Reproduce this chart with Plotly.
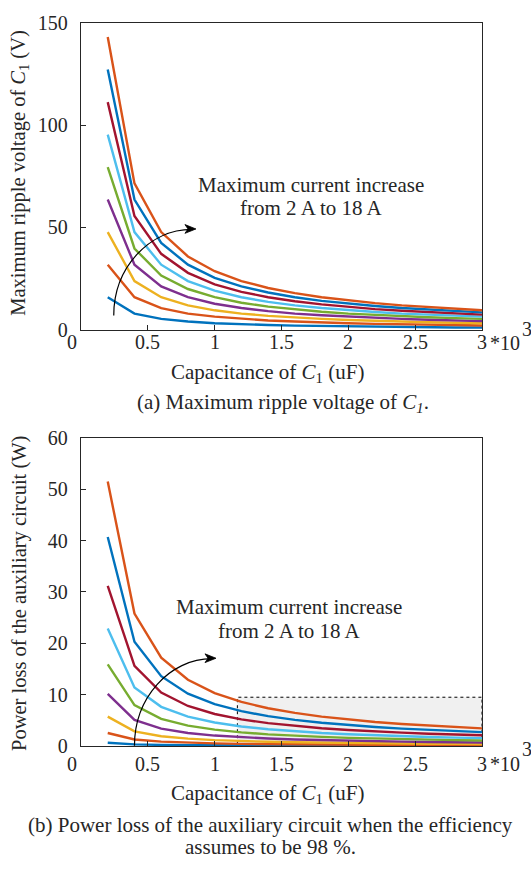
import plotly.graph_objects as go

# ---------------- data ----------------
capacitance = [0.2, 0.4, 0.6, 0.8, 1.0, 1.2, 1.4, 1.6, 1.8, 2.0, 2.2, 2.4, 2.6, 2.8, 3.0]
currents = ["2 A", "4 A", "6 A", "8 A", "10 A", "12 A", "14 A", "16 A", "18 A"]

ripple_2A = [15.9, 7.9, 5.3, 4.0, 3.2, 2.6, 2.3, 2.0, 1.8, 1.6, 1.4, 1.3, 1.2, 1.1, 1.1]
ripple_4A = [31.8, 15.9, 10.6, 7.9, 6.4, 5.3, 4.5, 4.0, 3.5, 3.2, 2.9, 2.6, 2.4, 2.3, 2.1]
ripple_6A = [47.7, 23.8, 15.9, 11.9, 9.5, 7.9, 6.8, 6.0, 5.3, 4.8, 4.3, 4.0, 3.7, 3.4, 3.2]
ripple_8A = [63.6, 31.8, 21.2, 15.9, 12.7, 10.6, 9.1, 7.9, 7.1, 6.4, 5.8, 5.3, 4.9, 4.5, 4.2]
ripple_10A = [79.4, 39.7, 26.5, 19.9, 15.9, 13.2, 11.3, 9.9, 8.8, 7.9, 7.2, 6.6, 6.1, 5.7, 5.3]
ripple_12A = [95.3, 47.7, 31.8, 23.8, 19.1, 15.9, 13.6, 11.9, 10.6, 9.5, 8.7, 7.9, 7.3, 6.8, 6.4]
ripple_14A = [111.2, 55.6, 37.1, 27.8, 22.2, 18.5, 15.9, 13.9, 12.4, 11.1, 10.1, 9.3, 8.6, 7.9, 7.4]
ripple_16A = [127.1, 63.6, 42.4, 31.8, 25.4, 21.2, 18.2, 15.9, 14.1, 12.7, 11.6, 10.6, 9.8, 9.1, 8.5]
ripple_18A = [143.0, 71.5, 47.7, 35.8, 28.6, 23.8, 20.4, 17.9, 15.9, 14.3, 13.0, 11.9, 11.0, 10.2, 9.5]

loss_2A = [0.64, 0.32, 0.21, 0.16, 0.13, 0.11, 0.09, 0.08, 0.07, 0.06, 0.06, 0.05, 0.05, 0.05, 0.04]
loss_4A = [2.54, 1.27, 0.85, 0.64, 0.51, 0.42, 0.36, 0.32, 0.28, 0.25, 0.23, 0.21, 0.20, 0.18, 0.17]
loss_6A = [5.72, 2.86, 1.91, 1.43, 1.14, 0.95, 0.82, 0.72, 0.64, 0.57, 0.52, 0.48, 0.44, 0.41, 0.38]
loss_8A = [10.17, 5.09, 3.39, 2.54, 2.03, 1.70, 1.45, 1.27, 1.13, 1.02, 0.92, 0.85, 0.78, 0.73, 0.68]
loss_10A = [15.9, 7.95, 5.30, 3.97, 3.18, 2.65, 2.27, 1.99, 1.77, 1.59, 1.45, 1.32, 1.22, 1.14, 1.06]
loss_12A = [22.9, 11.4, 7.63, 5.72, 4.58, 3.81, 3.27, 2.86, 2.54, 2.29, 2.08, 1.91, 1.76, 1.63, 1.53]
loss_14A = [31.2, 15.6, 10.4, 7.79, 6.23, 5.19, 4.45, 3.89, 3.46, 3.12, 2.83, 2.60, 2.40, 2.22, 2.08]
loss_16A = [40.7, 20.3, 13.6, 10.2, 8.14, 6.78, 5.81, 5.09, 4.52, 4.07, 3.70, 3.39, 3.13, 2.91, 2.71]
loss_18A = [51.5, 25.8, 17.2, 12.9, 10.3, 8.58, 7.36, 6.44, 5.72, 5.15, 4.68, 4.29, 3.96, 3.68, 3.43]

ripple_series = [ripple_2A, ripple_4A, ripple_6A, ripple_8A, ripple_10A,
                 ripple_12A, ripple_14A, ripple_16A, ripple_18A]
loss_series = [loss_2A, loss_4A, loss_6A, loss_8A, loss_10A,
               loss_12A, loss_14A, loss_16A, loss_18A]

x_tickvals = [0, 0.5, 1, 1.5, 2, 2.5, 3]
x_ticktext = ["0", "0.5", "1", "1.5", "2", "2.5", "3"]
y1_tickvals = [0, 50, 100, 150]
y2_tickvals = [0, 10, 20, 30, 40, 50, 60]

# highlighted region in (b)
box_x0, box_x1, box_y0, box_y1 = 1.17, 3.0, 0.0, 9.5

# ---------------- style ----------------
colors = ["#0072BD", "#D95319", "#EDB120", "#7E2F8E", "#77AC30",
          "#4DBEEE", "#A2142F", "#0072BD", "#D95319"]
FONT = "Liberation Serif"
TXT = "#262626"
W, H = 531, 873

def px_x(p):
    return p / W

def px_y(p):
    return 1 - p / H

fig = go.Figure()

for i, (name, ys) in enumerate(zip(currents, ripple_series)):
    fig.add_trace(go.Scatter(x=capacitance, y=ys, mode="lines", name=name,
                             line=dict(color=colors[i], width=2.4),
                             xaxis="x", yaxis="y", showlegend=False))
for i, (name, ys) in enumerate(zip(currents, loss_series)):
    fig.add_trace(go.Scatter(x=capacitance, y=ys, mode="lines", name=name,
                             line=dict(color=colors[i], width=2.4),
                             xaxis="x2", yaxis="y2", showlegend=False))

xdom = [px_x(81), px_x(482)]
axis_common = dict(showgrid=False, zeroline=False, showline=True, mirror=True,
                   linecolor=TXT, linewidth=1.3, ticks="inside", ticklen=5,
                   tickcolor=TXT, tickfont=dict(family=FONT, size=20, color=TXT))

fig.update_layout(
    width=W, height=H,
    margin=dict(l=0, r=0, t=0, b=0),
    paper_bgcolor="white", plot_bgcolor="white",
    font=dict(family=FONT, color=TXT),
    xaxis=dict(domain=xdom, range=[0, 3], anchor="y", tickvals=x_tickvals,
               showticklabels=False, **axis_common),
    yaxis=dict(domain=[px_y(327), px_y(12)], range=[0, 150], anchor="x",
               tickvals=y1_tickvals, ticklabelstandoff=8, **axis_common),
    xaxis2=dict(domain=xdom, range=[0, 3], anchor="y2", tickvals=x_tickvals,
                showticklabels=False, **axis_common),
    yaxis2=dict(domain=[px_y(754), px_y(438)], range=[0, 60], anchor="x2",
                tickvals=y2_tickvals, ticklabelstandoff=8, **axis_common),
)

# x tick labels placed through the x scales (closer to the axis than default)
for xr, ypx in (("x", 340), ("x2", 772)):
    for v, t in zip(x_tickvals, x_ticktext):
        fig.add_annotation(xref=xr, yref="paper", x=v, y=px_y(ypx), text=t,
                           showarrow=False, xanchor="center", yanchor="middle",
                           xshift=-9 if v == 0 else 0,
                           font=dict(family=FONT, size=20, color=TXT))

# shaded dotted box (drawn below traces)
fig.add_shape(type="rect", xref="x2", yref="y2", x0=box_x0, x1=box_x1,
              y0=box_y0, y1=box_y1, fillcolor="#f0f0f0",
              line=dict(color="black", width=1, dash="dot"), layer="below")

# curved arrows; sx, sy = data units per pixel
def arc(xr, yr, x0, y0, x1, y1, sx, sy):
    c1 = (x0, y0 + 0.55 * (y1 - y0))
    c2 = (x1 - 0.55 * (x1 - x0), y1)
    path = f"M {x0},{y0} C {c1[0]},{c1[1]} {c2[0]},{c2[1]} {x1},{y1}"
    fig.add_shape(type="path", xref=xr, yref=yr, path=path,
                  line=dict(color="black", width=1.2))
    tx, ty = x1 + 4 * sx, y1 + 0.5 * sy
    head = (f"M {tx},{ty} L {tx - 11 * sx},{ty + 4.5 * sy} "
            f"L {tx - 8 * sx},{ty} L {tx - 11 * sx},{ty - 4.5 * sy} Z")
    fig.add_shape(type="path", xref=xr, yref=yr, path=head,
                  fillcolor="black", line=dict(color="black", width=0.8))

arc("x", "y", 0.245, 7.0, 0.83, 49.0, 3 / 401, 150 / 315)
arc("x2", "y2", 0.40, 0.05, 0.98, 17.0, 3 / 401, 60 / 316)

def ann(text, x, y, size=21, xanchor="center", yanchor="middle", angle=0):
    fig.add_annotation(xref="paper", yref="paper", x=px_x(x), y=px_y(y),
                       text=text, showarrow=False, xanchor=xanchor,
                       yanchor=yanchor, textangle=angle,
                       font=dict(family=FONT, size=size, color=TXT))

ann("Maximum current increase", 311, 178)
ann("from 2 A to 18 A", 311, 202)
ann("Maximum current increase", 289, 611)
ann("from 2 A to 18 A", 289, 636)

ann("Maximum ripple voltage of <i>C</i><sub>1</sub> (V)", 20, 166, size=20.5, angle=-90)
ann("Power loss of the auxiliary circuit (W)", 20, 598, size=20.5, angle=-90)

ann("Capacitance of <i>C</i><sub>1</sub> (uF)", 267, 371)
ann("Capacitance of <i>C</i><sub>1</sub> (uF)", 267, 803)

ann("(a) Maximum ripple voltage of <i>C<sub>1</sub></i>.", 283, 402, size=21)
ann("(b) Power loss of the auxiliary circuit when the efficiency", 270, 835, size=21)
ann("assumes to be 98 %.", 270, 858, size=21)

ann("*10", 488, 341, size=20, xanchor="left")
ann("3", 520, 326, size=20, xanchor="left")
ann("*10", 488, 772, size=20, xanchor="left")
ann("3", 520, 757, size=20, xanchor="left")

fig.write_html("out.html")
